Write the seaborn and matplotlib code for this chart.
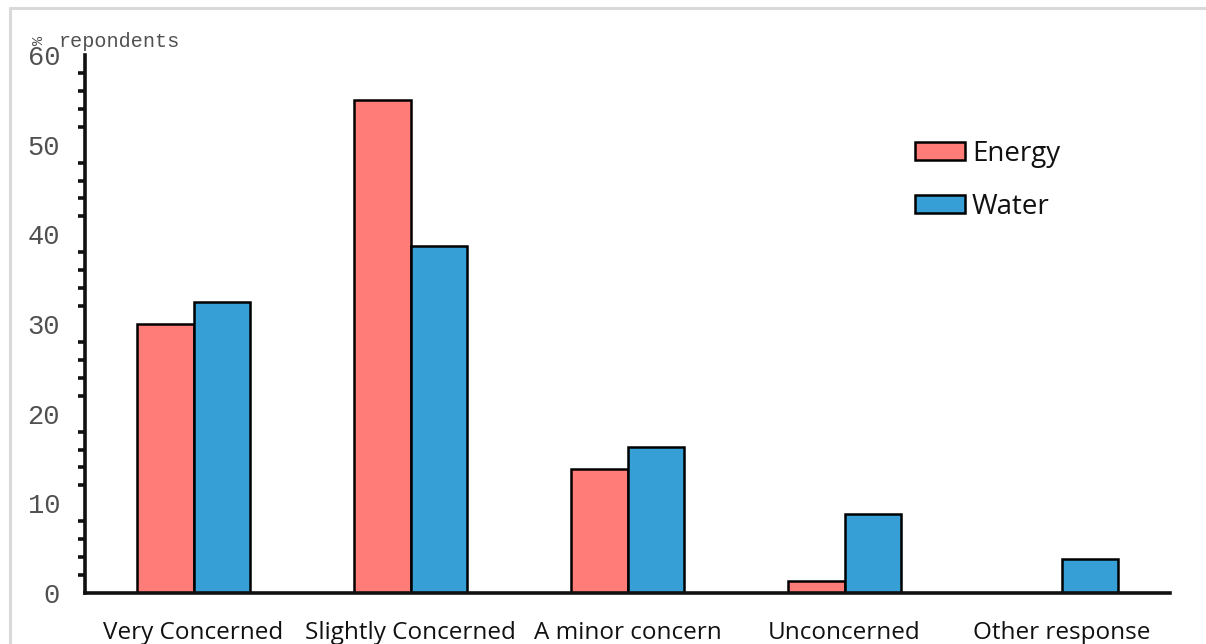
import matplotlib
matplotlib.use("Agg")
import matplotlib.pyplot as plt
import matplotlib.patches as mpatches
from matplotlib.lines import Line2D
from matplotlib.ticker import MultipleLocator
import seaborn as sns
import pandas as pd

categories = ["Very Concerned", "Slightly Concerned", "A minor concern",
              "Unconcerned", "Other response"]
energy = [30.0, 55.0, 13.8, 1.3, 0.0]
water = [32.5, 38.7, 16.3, 8.8, 3.8]
series = ["Energy", "Water"]
colors = ["#FF7C78", "#369FD6"]

df = pd.DataFrame({
    "category": categories * 2,
    "value": energy + water,
    "series": [series[0]] * len(categories) + [series[1]] * len(categories),
})

sns.set_style("white")
W, H = 1206, 644
fig = plt.figure(figsize=(W / 100, H / 100), dpi=100)

# light grey frame edges (top and left) around the chart area
frame_kw = dict(transform=fig.transFigure, color="#D9D9D9", linewidth=2.2)
fig.lines.append(Line2D([10 / W, 1.01], [1 - 8 / H, 1 - 8 / H], **frame_kw))
fig.lines.append(Line2D([10 / W, 10 / W], [1 - 8 / H, -0.01], **frame_kw))

ax = fig.add_axes([85 / W, 1 - 593 / H, (1170 - 85) / W, (593 - 55) / H])
sns.barplot(data=df, x="category", y="value", hue="series", palette=colors,
            width=0.525, gap=0, edgecolor="black", linewidth=1.8,
            saturation=1, ax=ax, legend=False)

ax.set_xlim(-0.5, 4.5)
ax.set_ylim(0, 60)
ax.set_xlabel("")
ax.set_ylabel("")

for side in ["top", "right"]:
    ax.spines[side].set_visible(False)
for side in ["left", "bottom"]:
    ax.spines[side].set_linewidth(2.6)
    ax.spines[side].set_color("#111111")
    ax.spines[side].set_capstyle("projecting")

ax.yaxis.set_major_locator(MultipleLocator(10))
ax.yaxis.set_minor_locator(MultipleLocator(2))
ax.tick_params(axis="y", which="major", direction="out", length=8, width=2.6,
               color="#111111", pad=10, labelsize=19.5, labelcolor="#505050")
ax.tick_params(axis="y", which="minor", direction="out", length=5, width=2.6,
               color="#111111", left=True)
for lbl in ax.get_yticklabels():
    lbl.set_fontfamily("Liberation Mono")

ax.tick_params(axis="x", which="both", length=0, pad=20, labelsize=17.5,
               labelcolor="#111111")
for lbl in ax.get_xticklabels():
    lbl.set_fontfamily("Open Sans")

# axis unit caption: a turned percent sign followed by the word
fig.text(39 / W, 1 - 40 / H, "%", family="Liberation Mono", fontsize=11,
         color="#505050", rotation=90, ha="center", va="center")
fig.text(59 / W, 1 - 47 / H, "repondents", family="Liberation Mono",
         fontsize=14.5, color="#505050", ha="left", va="baseline")

handles = [mpatches.Patch(facecolor=c, edgecolor="black", linewidth=1.8, label=s)
           for c, s in zip(colors, series)]
leg = ax.legend(handles=handles, loc="upper left",
                bbox_to_anchor=((904 - 85) / 1085, 1 - (129 - 55) / 538),
                frameon=False, fontsize=20, handlelength=1.8, handleheight=0.62,
                handletextpad=0.25, labelspacing=0.9, borderaxespad=0)
for t in leg.get_texts():
    t.set_fontfamily("Open Sans")
    t.set_color("#111111")

fig.savefig("out.png", dpi=100)
